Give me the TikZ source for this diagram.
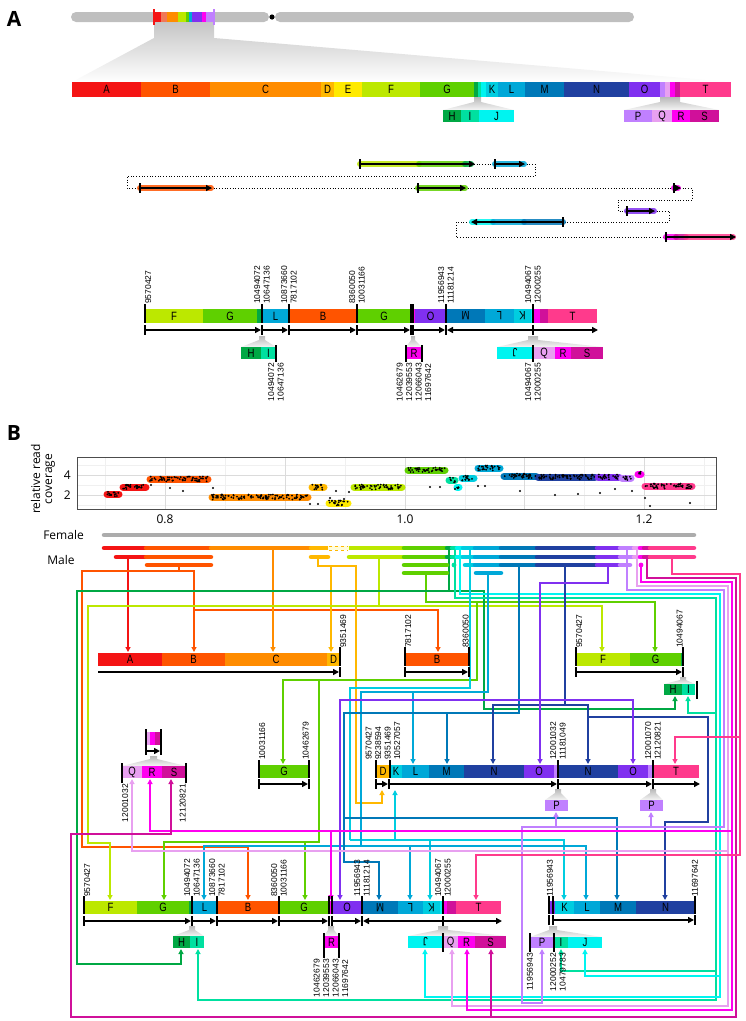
\documentclass[tikz,border=0pt]{standalone}
\usepackage{fontspec}
\setmainfont{Open Sans}
\newfontfamily\segfont[FakeStretch=0.8]{Liberation Sans}
\newfontfamily\numfont{Liberation Sans}
\usetikzlibrary{arrows.meta}

\definecolor{cA}{HTML}{F41414}
\definecolor{cB}{HTML}{FF5400}
\definecolor{cC}{HTML}{FF8C00}
\definecolor{cD}{HTML}{FFB800}
\definecolor{cE}{HTML}{FFEA00}
\definecolor{cF}{HTML}{BCE800}
\definecolor{cG}{HTML}{5FD000}
\definecolor{cH}{HTML}{00A844}
\definecolor{cI}{HTML}{00E0A0}
\definecolor{cJ}{HTML}{00F4F0}
\definecolor{cK}{HTML}{00CDE0}
\definecolor{cL}{HTML}{00A8D8}
\definecolor{cM}{HTML}{0078B8}
\definecolor{cN}{HTML}{2040A0}
\definecolor{cO}{HTML}{8030F0}
\definecolor{cP}{HTML}{C080FF}
\definecolor{cQ}{HTML}{E8A0F0}
\definecolor{cR}{HTML}{FF00F0}
\definecolor{cS}{HTML}{D0109A}
\definecolor{cT}{HTML}{FF3A8C}
\definecolor{salmon}{HTML}{F07858}

\tikzset{
  segtxt/.style={font=\segfont\fontsize{12}{12}\selectfont, inner sep=0pt},
  numlab/.style={font=\numfont\fontsize{8.5}{9.5}\selectfont, inner sep=0pt, align=left, rotate=90},
  txtlab/.style={font=\fontsize{12}{12}\selectfont, inner sep=0pt},
  panel/.style={font=\bfseries\fontsize{21}{21}\selectfont, inner sep=0pt},
  wire/.style={line width=1.2pt},
  arr/.style={-{Triangle[length=5pt,width=5pt]}},
  seqarrow/.style={line width=1.5pt, -{Triangle[length=6pt,width=6pt]}},
  tk/.style={line width=1.2pt},
  funnel/.style={top color=gray!55, bottom color=gray!8},
  dotline/.style={line width=0.7pt, dotted},
  band/.style={line width=6pt, line cap=round, opacity=.85},
  covbar/.style={line width=7pt, line cap=round},
  malebar/.style={line width=4.5pt, line cap=round},
}

% coloured bar made of segments: name, top, bottom, list a/b/colour/label/rotation
\newcommand{\segbar}[4]{%
  \foreach \a/\b/\c/\l/\r [count=\k] in {#4}{
    \fill[\c] (\a,#2) rectangle (\b,#3);
    \node[segtxt, rotate=\r] (#1\k) at ({(\a+\b)/2},{(#2+#3)/2}) {\l};
  }}
\newcommand{\tickset}[3]{\foreach \x in {#3} \draw[tk] (\x,#1) -- (\x,#2);}

\begin{document}
\begin{tikzpicture}[x=1pt,y=-1pt]
\useasboundingbox (0,0) rectangle (746,1021);

% ---------------- panel A ----------------
\node[panel] (pA) at (14,19) {A};

% chromosome
\shade[top color=gray!45, bottom color=white] (154,22) -- (214,22) -- (214,38) -- (731,82) -- (72,82) -- (154,38) -- cycle;
\fill[gray!50, rounded corners=5pt] (71,12) rectangle (269,22);
\fill[gray!50, rounded corners=5pt] (275,12) rectangle (634,22);
\fill (272,17) circle (2.6);
\foreach \a/\b/\c in {154/161/cA, 161/167/salmon, 167/178/cC, 178/186/cF, 186/189/cG, 189/192/cL, 192/202/cO, 202/206/cR, 206/214/cP}
  \fill[\c] (\a,12) rectangle (\b,22);
\draw[cA, line width=1.2pt] (154,9) -- (154,25);
\draw[cP, line width=1.2pt] (214,9) -- (214,25);

% reference order
\segbar{ref}{82}{97}{72/141/cA/A/0, 141/210/cB/B/0, 210/321/cC/C/0, 321/334/cD/D/0, 334/362/cE/E/0, 362/420/cF/F/0, 420/474/cG/G/0, 474/478/cH/{}/0, 478/481/cI/{}/0, 481/486/cJ/{}/0, 486/498/cK/K/0, 498/525/cL/L/0, 525/564/cM/M/0, 564/629/cN/N/0, 629/660/cO/O/0, 660/665/cP/{}/0, 665/670/cQ/{}/0, 670/675/cR/{}/0, 675/680/cS/{}/0, 680/731/cT/T/0}
\shade[funnel] (474,97) -- (481,97) -- (481,102) -- (514,110) -- (443,110) -- (474,102) -- cycle;
\shade[funnel] (660,97) -- (680,97) -- (680,102) -- (719,110) -- (624,110) -- (660,102) -- cycle;
\segbar{hij}{110}{122}{443/461/cH/H/0, 461/479/cI/I/0, 479/514/cJ/J/0}
\segbar{pqrs}{110}{122}{624/652/cP/P/0, 652/672/cQ/Q/0, 672/690/cR/R/0, 690/719/cS/S/0}

% read path
\draw[dotline] (474,164) -- (495,164);
\draw[dotline] (524,164) -- (535,164) -- (535,176) -- (127,176) -- (127,188) -- (140,188);
\draw[dotline] (211,188) -- (418,188);
\draw[dotline] (465,188) -- (674,188);
\draw[dotline] (680,188) -- (692,188) -- (692,200) -- (618,200) -- (618,211) -- (627,211);
\draw[dotline] (654,211) -- (669,211) -- (669,222) -- (563,222);
\draw[dotline] (472,222) -- (456,222) -- (456,237) -- (666,237);
\foreach \a/\b/\y/\c in {360/419/164/cF, 419/465/164/cG, 465/471/164/cH, 495/524/164/cL,
    140/211/188/cB, 418/465/188/cG, 674/678/188/cR, 627/654/211/cO,
    472/493/222/cJ, 493/524/222/cL, 524/563/222/cM,
    666/676/237/cR, 676/686/237/cS, 686/733/237/cT}
  \draw[band, \c] (\a,\y) -- (\b,\y);
\draw[seqarrow] (360,164) -- (475,164);
\draw[seqarrow] (495,164) -- (525,164);
\draw[seqarrow] (140,188) -- (212,188);
\draw[seqarrow] (418,188) -- (466,188);
\draw[seqarrow] (674,188) -- (681,188);
\draw[seqarrow] (627,211) -- (655,211);
\draw[seqarrow] (563,222) -- (471,222);
\draw[seqarrow] (666,237) -- (736,237);
\foreach \x/\y in {360/164, 495/164, 140/188, 418/188, 674/188, 627/211, 563/222, 666/237}
  \draw[tk] (\x,\y-5) -- (\x,\y+5);

% rearranged order
\segbar{rea}{309}{323}{145/203/cF/F/0, 203/257/cG/G/0, 257/262/cH/{}/0, 262/289/cL/L/0, 289/357/cB/B/0, 357/411/cG/G/0, 411/415/cR/{}/0, 415/446/cO/O/0, 446/485/cM/M/180, 485/514/cL/L/180, 514/531/cK/K/180, 531/533/cJ/{}/0, 533/540/cR/{}/0, 540/548/cS/{}/0, 548/597/cT/T/0}
\tickset{304}{323}{145,262,289,357,411,413,446,533}
\draw[seqarrow] (145,330) -- (261,330);
\draw[seqarrow] (262,330) -- (288,330);
\draw[seqarrow] (289,330) -- (356,330);
\draw[seqarrow] (357,330) -- (410,330);
\draw[seqarrow] (413,330) -- (445,330);
\draw[seqarrow] (533,330) -- (447,330);
\draw[seqarrow] (533,330) -- (598,330);
\tickset{325}{335}{145,262,289,357,411,413,446,533}
\node[numlab, anchor=north west] (ra1) at (145,304) {9570427};
\node[numlab, anchor=west] (ra2) at (262,304) {10494072\\10647136};
\node[numlab, anchor=west] (ra3) at (289,304) {10873660\\7817102};
\node[numlab, anchor=west] (ra4) at (357,304) {8360050\\10031166};
\node[numlab, anchor=west] (ra5) at (446,304) {11956943\\11181214};
\node[numlab, anchor=west] (ra6) at (533,304) {10494067\\12000255};

\shade[funnel] (259,336) -- (265,336) -- (265,340) -- (276,347) -- (241,347) -- (259,340) -- cycle;
\shade[funnel] (411,336) -- (415,336) -- (415,340) -- (422,347) -- (406,347) -- (411,340) -- cycle;
\shade[funnel] (528,336) -- (538,336) -- (538,340) -- (603,347) -- (497,347) -- (528,340) -- cycle;
\segbar{rhi}{347}{359}{241/261/cH/H/0, 261/276/cI/I/0}
\segbar{rr}{347}{359}{406/422/cR/R/0}
\segbar{rjq}{347}{359}{497/533/cJ/J/180, 533/555/cQ/Q/0, 555/571/cR/R/0, 571/603/cS/S/0}
\tickset{345}{362}{276,406,422,533}
\node[numlab, anchor=east] (rb1) at (276,363) {10494072\\10647136};
\node[numlab, anchor=east] (rb2) at (414,363) {10462679\\12039553\\12066043\\11697642};
\node[numlab, anchor=east] (rb3) at (533,363) {10494067\\12000255};

% ---------------- panel B ----------------
\node[panel] (pB) at (14,433) {B};
\node[txtlab, rotate=90, align=center] (ylab) at (43,479) {relative read\\coverage};

% coverage plot
\foreach \x in {105,225,345,465,584,704} \draw[gray!12, line width=0.5pt] (\x,457) -- (\x,509);
\foreach \y in {465,485,505} \draw[gray!12, line width=0.5pt] (77,\y) -- (716,\y);
\foreach \x in {165,285,405,524,644} \draw[gray!28, line width=0.7pt] (\x,457) -- (\x,509);
\foreach \y in {475,495} \draw[gray!28, line width=0.7pt] (77,\y) -- (716,\y);
\draw[gray!60!black, line width=0.8pt] (77,457) rectangle (716,509);
\node[txtlab, anchor=east] (y4) at (71,475) {4};
\node[txtlab, anchor=east] (y2) at (71,495) {2};
\node[txtlab] (x08) at (165,519) {0.8};
\node[txtlab] (x10) at (405,519) {1.0};
\node[txtlab] (x12) at (644,519) {1.2};

\def\covlist{107/119/2.1/cA, 123/146/2.8/cA, 150/208/3.6/cB, 212/308/1.8/cC, 312/324/2.8/cD, 329/348/1.2/cE, 354/402/2.8/cF, 408/445/4.5/cG, 449/455/3.5/cI, 457/459/2.8/cJ, 462/474/3.7/cK, 478/500/4.7/cL, 504/536/3.9/cM, 538/595/3.8/cN, 598/619/3.8/cO, 622/631/3.7/cP, 638/641/4.1/cR, 645/692/2.9/cT}
\foreach \a/\b/\v/\c in \covlist
  \draw[covbar, \c] (\a,{495-(\v-2)*10}) -- (\b,{495-(\v-2)*10});
\pgfmathsetseed{11}
\foreach \a/\b/\v/\c in \covlist {
  \pgfmathtruncatemacro\n{(\b-\a)*1.1+2}
  \foreach \i in {1,...,\n}{
    \pgfmathsetmacro\xx{\a+rnd*(\b-\a)}
    \pgfmathsetmacro\yy{495-(\v-2)*10+(rnd-0.5)*5}
    \fill (\xx,\yy) circle (1);
  }
}
\foreach \x/\y in {183/491, 170/488, 310/504, 318/504, 330/498, 344/499, 349/492, 336/491, 440/487, 430/487, 455/489, 478/486, 485/486, 520/491, 555/495, 578/494, 600/493, 615/489, 632/491, 645/498, 690/503, 650/506, 151/485, 213/488}
  \fill (\x,\y) circle (1.1);

% female / male
\node[txtlab, anchor=east] (female) at (84,535) {Female};
\node[txtlab] (male) at (61,560) {Male};

% sources on male rows
\coordinate (sA) at (128,557);
\coordinate (sB) at (179,565);
\coordinate (sC) at (273,548);
\coordinate (sD) at (318,557);
\coordinate (sF) at (379,557);
\coordinate (sG) at (426,573);
\coordinate (sH) at (449,548);
\coordinate (sI) at (455,548);
\coordinate (sJ) at (460,548);
\coordinate (sK) at (470,548);
\coordinate (sL) at (488,573);
\coordinate (sM) at (519,565);
\coordinate (sN) at (565,565);
\coordinate (sO) at (608,565);
\coordinate (sP) at (627,548);
\coordinate (sQ) at (637,548);
\coordinate (sR) at (641,565);
\coordinate (sS) at (647,557);
\coordinate (sT) at (672,557);

% targets
\coordinate (tA) at (128,652);
\coordinate (tB) at (194,652);
\coordinate (tC) at (273,652);
\coordinate (tD) at (331,652);
\coordinate (tB2) at (438,652);
\coordinate (tF) at (602,652);
\coordinate (tG) at (655,652);
\coordinate (tH) at (675,696);
\coordinate (tI) at (688,696);
\coordinate (tQ1) at (132,779);
\coordinate (tR1) at (150,779);
\coordinate (tS1) at (171,779);
\coordinate (tG2) at (283,764);
\coordinate (tD2) at (382,790);
\coordinate (tK2) at (395,790);
\coordinate (tL2) at (413,764);
\coordinate (tM2) at (447,764);
\coordinate (tN2) at (493,764);
\coordinate (tO2) at (540,764);
\coordinate (tN3) at (588,764);
\coordinate (tO3) at (633,764);
\coordinate (tT2) at (675,764);
\coordinate (tP2) at (556,812);
\coordinate (tP3) at (651,812);
\coordinate (tF4) at (110,900);
\coordinate (tG4) at (164,900);
\coordinate (tL4) at (204,900);
\coordinate (tB4) at (248,900);
\coordinate (tG5) at (305,900);
\coordinate (tR4) at (331,900);
\coordinate (tO4) at (340,900);
\coordinate (tM4) at (379,900);
\coordinate (tL5) at (410,900);
\coordinate (tK4) at (430,900);
\coordinate (tT4) at (476,900);
\coordinate (tK5) at (564,900);
\coordinate (tL6) at (586,900);
\coordinate (tM5) at (617,900);
\coordinate (tN5) at (665,900);
\coordinate (tH4) at (181,949);
\coordinate (tI4) at (198,949);
\coordinate (tJ4) at (425,949);
\coordinate (tQ4) at (452,949);
\coordinate (tR5) at (467,949);
\coordinate (tS4) at (491,949);
\coordinate (tP5) at (542,949);
\coordinate (tI5) at (561,949);
\coordinate (tJ5) at (585,949);

% connectors
\draw[wire, cA, arr] (sA) -- (tA);
\draw[wire, cB, arr] (sB) |- (194,571) -- (tB);
\draw[wire, cB, arr] (194,610) -| (tB2);
\draw[wire, cB, arr] (179,571) -| (82,847) -| (tB4);
\draw[wire, cC, arr] (sC) -- (tC);
\draw[wire, cD, arr] (sD) |- (331,566) -- (tD);
\draw[wire, cD, arr] (331,566) -| (356,803) -| (tD2);
\draw[wire, cF, arr] (sF) |- (602,606) -- (tF);
\draw[wire, cF, arr] (379,606) -| (88,843) -| (tF4);
\draw[wire, cG, arr] (sG) |- (655,602) -- (tG);
\draw[wire, cG, arr] (477,602) |- (283,680) -- (tG2);
\draw[wire, cG, arr] (319,680) |- (164,842) -- (tG4);
\draw[wire, cG, arr] (305,842) -- (tG5);
\draw[wire, cH, arr] (sH) |- (484,591) |- (675,709) -- (tH);
\draw[wire, cH, arr] (449,591) -| (77,964) -| (tH4);
\draw[wire, cI, arr] (sI) |- (716,598) |- (198,1000) -- (tI4);
\draw[wire, cI, arr] (716,713) -| (tI);
\draw[wire, cI, arr] (716,971) -| (tI5);
\draw[wire, cJ, arr] (sJ) |- (720,594) |- (425,997) -- (tJ4);
\draw[wire, cJ, arr] (720,976) -| (tJ5);
\draw[wire, cK] (sK) |- (350,688) -- (350,840);
\draw[wire, cK, arr] (350,840) -| (tK2);
\draw[wire, cK, arr] (350,840) -| (tK4);
\draw[wire, cK, arr] (350,840) -| (tK5);
\draw[wire, cL, arr] (sL) |- (413,692) -- (tL2);
\draw[wire, cL] (413,692) -- (361,692) -- (361,846);
\draw[wire, cL, arr] (361,846) -| (tL4);
\draw[wire, cL, arr] (361,846) -| (tL5);
\draw[wire, cL, arr] (361,846) -| (tL6);
\draw[wire, cM, arr] (sM) |- (447,713) -- (tM2);
\draw[wire, cM, arr] (447,713) -| (344,862) -| (tM4);
\draw[wire, cM, arr] (344,818) -| (tM5);
\draw[wire, cN] (sN) -- (565,705);
\draw[wire, cN, arr] (565,705) -| (tN2);
\draw[wire, cN, arr] (565,705) -| (tN3);
\draw[wire, cN, arr] (588,717) -| (708,822) -| (tN5);
\draw[wire, cO, arr] (sO) |- (540,583) -- (tO2);
\draw[wire, cO, arr] (540,700) -| (tO3);
\draw[wire, cO, arr] (540,700) -| (tO4);
\draw[wire, cP, arr] (sP) |- (724,590) |- (522,827) |- (542,1003) -- (tP5);
\draw[wire, cP, arr] (556,827) -- (tP2);
\draw[wire, cP, arr] (651,827) -- (tP3);
\draw[wire, cQ, arr] (sQ) |- (728,586) |- (452,1006) -- (tQ4);
\draw[wire, cQ, arr] (728,851) -| (tQ1);
\draw[wire, cR, arr] (sR) |- (732,582) |- (467,1010) -- (tR5);
\draw[wire, cR, arr] (732,831) -| (tR1);
\draw[wire, cR, arr] (331,831) -- (tR4);
\draw[wire, cS, arr] (sS) |- (736,578) |- (71,1017) |- (171,834) -- (tS1);
\draw[wire, cS, arr] (491,1017) -- (tS4);
\draw[wire, cT, arr] (sT) |- (740,574) |- (476,855) -- (tT4);
\draw[wire, cT, arr] (740,737) -| (tT2);

% female and male tracks
\draw[malebar, gray!65] (104,535) -- (694,535);
\def\tail{404/447/cG, 447/452/cH, 452/457/cI, 457/463/cJ, 463/475/cK, 475/501/cL, 501/537/cM, 537/597/cN, 597/620/cO, 620/634/cP, 634/640/cQ, 640/644/cR, 644/650/cS, 650/694/cT}
\foreach \a/\b/\c in {104/146/cA, 146/211/cB, 211/311/cC, 311/328/cD, 349/404/cF}
  \draw[malebar, \c] (\a,548) -- (\b,548);
\foreach \a/\b/\c in \tail \draw[malebar, \c] (\a,548) -- (\b,548);
\fill[cE!15] (328,545.8) rectangle (349,550.2);
\draw[cD, dashed, line width=0.6pt] (329,545.8) -- (348,545.8) (329,550.2) -- (348,550.2);
\foreach \a/\b/\c in {116/146/cA, 146/211/cB, 311/328/cD, 349/404/cF}
  \draw[malebar, \c] (\a,557) -- (\b,557);
\foreach \a/\b/\c in \tail \draw[malebar, \c] (\a,557) -- (\b,557);
\foreach \a/\b/\c in {147/211/cB, 404/447/cG, 465/475/cK, 475/501/cL, 501/537/cM, 537/597/cN, 597/620/cO, 620/630/cP}
  \draw[malebar, \c] (\a,565) -- (\b,565);
\fill[cI] (454,565) circle (2.4);
\fill[cR] (641,565) circle (2.4);
\draw[malebar, cG] (404,573) -- (447,573);
\draw[malebar, cL] (476,573) -- (501,573);

% upper row of rearranged pieces
\segbar{ua}{653}{666}{98/162/cA/A/0, 162/225/cB/B/0, 225/327/cC/C/0, 327/340/cD/D/0}
\segbar{ub}{653}{666}{405/469/cB/B/0}
\segbar{uf}{653}{666}{576/630/cF/F/0, 630/681/cG/G/0, 681/683/cH/{}/0}
\tickset{647}{666}{340,405,469,576,683}
\draw[seqarrow] (98,672) -- (339,672);
\draw[seqarrow] (405,672) -- (468,672);
\draw[seqarrow] (576,672) -- (682,672);
\tickset{667}{677}{340,405,469,576,683}
\node[numlab, anchor=north west] (ul1) at (340,648) {9351469};
\node[numlab, anchor=north west] (ul2) at (405,648) {7817102};
\node[numlab, anchor=south west] (ul3) at (469,648) {8360050};
\node[numlab, anchor=north west] (ul4) at (576,648) {9570427};
\node[numlab, anchor=south west] (ul5) at (683,648) {10494067};
\shade[funnel] (680,677) -- (686,677) -- (686,680) -- (695,684) -- (664,684) -- (680,680) -- cycle;
\segbar{uh}{684}{695}{664/682/cH/H/0, 682/695/cI/I/0}
\draw[tk] (697,681) -- (697,699);

% middle row
\segbar{mx}{732}{745}{146/150/cQ/{}/0, 150/155/cR/{}/0, 155/161/cS/{}/0}
\tickset{729}{748}{146,161}
\draw[seqarrow] (146,751) -- (160,751);
\tickset{747}{755}{146,161}
\shade[funnel] (150,756) -- (157,756) -- (157,759) -- (186,766) -- (122,766) -- (150,759) -- cycle;
\segbar{mq}{766}{778}{122/142/cQ/Q/0, 142/162/cR/R/0, 162/186/cS/S/0}
\tickset{763}{783}{122,186}
\node[numlab, anchor=north east] (ml1) at (122,784) {12001032};
\node[numlab, anchor=south east] (ml2) at (186,784) {12120821};

\segbar{mg}{765}{778}{259/309/cG/G/0}
\tickset{760}{778}{259,309}
\draw[seqarrow] (259,784) -- (308,784);
\tickset{779}{789}{259,309}
\node[numlab, anchor=north west] (ml3) at (259,760) {10031166};
\node[numlab, anchor=south west] (ml4) at (309,760) {10462679};

\segbar{md}{765}{778}{376/390/cD/D/0, 390/402/cK/K/0, 402/429/cL/L/0, 429/464/cM/M/0, 464/524/cN/N/0, 524/554/cO/O/0, 554/558/cP/{}/0, 558/618/cN/N/0, 618/648/cO/O/0, 648/653/cP/{}/0, 653/699/cT/T/0}
\tickset{760}{778}{376,390,558,653}
\draw[seqarrow] (376,784) -- (388,784);
\draw[seqarrow] (390,784) -- (557,784);
\draw[seqarrow] (558,784) -- (652,784);
\draw[seqarrow] (653,784) -- (700,784);
\tickset{779}{789}{376,389,558,653}
\node[numlab, anchor=west] (ml5) at (383,760) {9570427\\9238594\\9351469\\10527057};
\node[numlab, anchor=west] (ml6) at (558,760) {12001032\\11181049};
\node[numlab, anchor=west] (ml7) at (653,760) {12001070\\12120821};
\shade[funnel] (555,789) -- (561,789) -- (561,793) -- (568,800) -- (545,800) -- (555,793) -- cycle;
\shade[funnel] (650,789) -- (656,789) -- (656,793) -- (663,800) -- (640,800) -- (650,793) -- cycle;
\segbar{mp}{800}{811}{545/568/cP/P/0}
\segbar{mpp}{800}{811}{640/663/cP/P/0}

% lower row
\segbar{lo}{901}{914}{84/137/cF/F/0, 137/189/cG/G/0, 189/192/cH/{}/0, 192/217/cL/L/0, 217/279/cB/B/0, 279/329/cG/G/0, 329/332/cR/{}/0, 332/362/cO/O/0, 362/398/cM/M/180, 398/423/cL/L/180, 423/440/cK/K/180, 440/443/cJ/{}/0, 443/447/cR/{}/0, 447/456/cS/{}/0, 456/501/cT/T/0}
\tickset{896}{914}{84,192,217,279,329,332,362,443}
\draw[seqarrow] (84,921) -- (191,921);
\draw[seqarrow] (192,921) -- (216,921);
\draw[seqarrow] (217,921) -- (278,921);
\draw[seqarrow] (279,921) -- (328,921);
\draw[seqarrow] (332,921) -- (361,921);
\draw[seqarrow] (443,921) -- (363,921);
\draw[seqarrow] (443,921) -- (502,921);
\tickset{916}{926}{84,192,217,279,329,332,362,443}
\node[numlab, anchor=north west] (ll1) at (84,897) {9570427};
\node[numlab, anchor=west] (ll2) at (192,897) {10494072\\10647136};
\node[numlab, anchor=west] (ll3) at (217,897) {10873660\\7817102};
\node[numlab, anchor=west] (ll4) at (279,897) {8360050\\10031166};
\node[numlab, anchor=west] (ll5) at (362,897) {11956943\\11181214};
\node[numlab, anchor=west] (ll6) at (443,897) {10494067\\12000255};

\shade[funnel] (189,926) -- (195,926) -- (195,930) -- (204,936) -- (173,936) -- (189,930) -- cycle;
\shade[funnel] (328,926) -- (334,926) -- (334,930) -- (339,936) -- (324,936) -- (328,930) -- cycle;
\shade[funnel] (438,926) -- (448,926) -- (448,930) -- (506,936) -- (408,936) -- (438,930) -- cycle;
\segbar{lh}{936}{948}{173/190/cH/H/0, 190/204/cI/I/0}
\segbar{lr}{936}{948}{324/339/cR/R/0}
\segbar{lj}{936}{948}{408/443/cJ/J/180, 443/458/cQ/Q/0, 458/475/cR/R/0, 475/506/cS/S/0}
\tickset{933}{958}{324,339}
\draw[tk] (443,933) -- (443,952);
\node[numlab, anchor=east] (ll7) at (331,959) {10462679\\12039553\\12066043\\11697642};

\segbar{lk}{901}{914}{549/555/cO/{}/0, 555/574/cK/K/0, 574/600/cL/L/0, 600/636/cM/M/0, 636/695/cN/N/0}
\tickset{896}{914}{549,553,695}
\draw[seqarrow] (553,920) -- (694,920);
\tickset{915}{925}{549,553,695}
\node[numlab, anchor=west] (ll8) at (550,897) {11956943};
\node[numlab, anchor=west] (ll9) at (695,897) {11697642};
\shade[funnel] (549,926) -- (557,926) -- (557,930) -- (602,937) -- (530,937) -- (549,930) -- cycle;
\segbar{lp}{937}{948}{530/554/cP/P/0, 554/568/cI/I/0, 568/602/cJ/J/0}
\tickset{933}{952}{530,554}
\node[numlab, anchor=east] (ll10) at (530,953) {11956943};
\node[numlab, anchor=east] (ll11) at (558,953) {12000252\\10479783};

\end{tikzpicture}
\end{document}
